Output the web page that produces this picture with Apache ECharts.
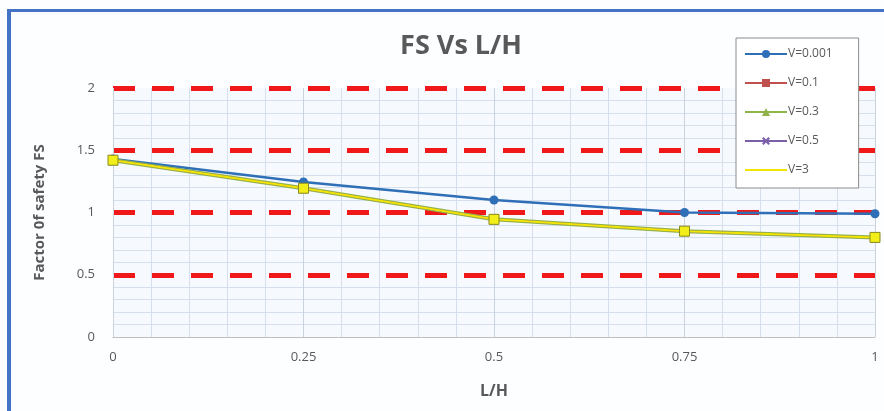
<!DOCTYPE html>
<html>
<head>
<meta charset="utf-8">
<script src="https://cdn.jsdelivr.net/npm/echarts@6/dist/echarts.min.js"></script>
<style>
  html, body { margin: 0; padding: 0; background: #fff; }
  #frame {
    position: absolute; left: 7px; top: 9px; width: 877px; height: 402px;
    box-sizing: border-box; border-left: 4px solid #4472c4; border-top: 3px solid #4472c4;
  }
  #chart { position: absolute; left: 0; top: 0; width: 884px; height: 411px; }
</style>
</head>
<body>
<div id="chart"></div>
<div id="frame"></div>
<script>
const lh = [0, 0.25, 0.5, 0.75, 1]
const fsV0001 = [1.43, 1.245, 1.10, 1.0, 0.99]
const fsV01 = [1.42, 1.195, 0.945, 0.85, 0.80]
const fsV03 = [1.42, 1.195, 0.945, 0.85, 0.80]
const fsV05 = [1.42, 1.195, 0.945, 0.85, 0.80]
const fsV3 = [1.42, 1.195, 0.945, 0.85, 0.80]
const seriesNames = ["V=0.001", "V=0.1", "V=0.3", "V=0.5", "V=3"]

const pairs = (ys) => lh.map((x, i) => [x, ys[i]])
const grey = "#595959"
const light = "#d6e0ec"
const crossPath = "path://M0,4L4,0L10,6L16,0L20,4L14,10L20,16L16,20L10,14L4,20L0,16L6,10Z"

const chart = echarts.init(document.getElementById("chart"), null, { renderer: "canvas" })
chart.setOption({
  animation: false,
  backgroundColor: "#fdfeff",
  textStyle: { fontFamily: "Open Sans, sans-serif" },
  title: {
    text: "FS Vs L/H",
    left: 456,
    top: 28,
    textAlign: "center",
    textStyle: { fontSize: 27, fontWeight: "bold", color: grey, fontFamily: "Open Sans, sans-serif" },
  },
  legend: {
    orient: "vertical",
    left: 736,
    top: 38,
    padding: [10, 26, 12, 8],
    itemGap: 17,
    itemWidth: 42,
    itemHeight: 10,
    backgroundColor: "#ffffff",
    borderColor: "#8c8c8c",
    borderWidth: 1,
    textStyle: { color: grey, fontSize: 12, padding: [0, 0, 0, -4] },
    data: [
      { name: "V=0.001" },
      { name: "V=0.1" },
      { name: "V=0.3" },
      { name: "V=0.5" },
      { name: "V=3", itemStyle: { opacity: 0 } },
    ],
  },
  grid: {
    left: 113, right: 9, top: 88, bottom: 74,
    show: true, backgroundColor: "#f6f9fd", borderWidth: 0,
  },
  xAxis: {
    type: "value",
    min: 0, max: 1, interval: 0.25,
    name: "L/H",
    nameLocation: "middle",
    nameGap: 46,
    nameTextStyle: { fontSize: 16, fontWeight: "bold", color: grey },
    axisLabel: { color: grey, fontSize: 13, margin: 14 },
    axisLine: { show: true, lineStyle: { color: "#bfbfbf", width: 1 } },
    axisTick: { show: false },
    splitLine: { show: true, lineStyle: { color: "#c9d3de", width: 1 } },
    minorTick: { show: false, splitNumber: 5 },
    minorSplitLine: { show: true, lineStyle: { color: light, width: 1 } },
  },
  yAxis: {
    type: "value",
    min: 0, max: 2, interval: 0.5,
    name: "Factor 0f safety FS",
    nameLocation: "middle",
    nameGap: 66,
    nameTextStyle: { fontSize: 15, fontWeight: "bold", color: grey },
    axisLabel: { color: grey, fontSize: 13, margin: 18 },
    axisLine: { show: false },
    axisTick: { show: false },
    splitLine: {
      show: true,
      lineStyle: {
        color: ["rgba(0,0,0,0)", "#f01818", "#f01818", "#f01818", "#f01818"],
        width: 5,
        type: [22, 17],
      },
    },
    minorTick: { show: false, splitNumber: 5 },
    minorSplitLine: { show: true, lineStyle: { color: light, width: 1 } },
  },
  series: [
    {
      name: seriesNames[0], type: "line", data: pairs(fsV0001), z: 5,
      symbol: "circle", symbolSize: 9,
      lineStyle: { color: "#2e6fb7", width: 2.5 },
      itemStyle: { color: "#2e6fb7" },
    },
    {
      name: seriesNames[1], type: "line", data: pairs(fsV01), z: 6,
      symbol: "rect", symbolSize: 9,
      lineStyle: { color: "#c0504d", width: 2.5 },
      itemStyle: { color: "#c0504d" },
    },
    {
      name: seriesNames[2], type: "line", data: pairs(fsV03), z: 7,
      symbol: "triangle", symbolSize: 10,
      lineStyle: { color: "#8fb44a", width: 4 },
      itemStyle: { color: "#8fb44a" },
    },
    {
      name: seriesNames[3], type: "line", data: pairs(fsV05), z: 8,
      symbol: crossPath, symbolSize: 9,
      lineStyle: { color: "#7b5fa8", width: 2 },
      itemStyle: { color: "#7b5fa8" },
    },
    {
      name: seriesNames[4], type: "line", data: pairs(fsV3), z: 9,
      symbol: "rect", symbolSize: 10,
      lineStyle: { color: "#f2e600", width: 2 },
      itemStyle: { color: "#f2ee1a", borderColor: "#8a8a1e", borderWidth: 1 },
    },
  ],
})
</script>
</body>
</html>
